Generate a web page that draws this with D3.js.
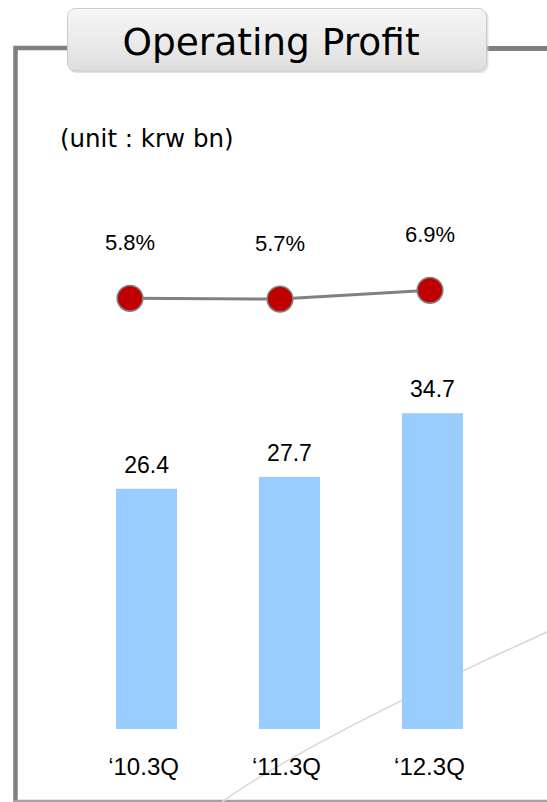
<!DOCTYPE html>
<html>
<head>
<meta charset="utf-8">
<script src="https://cdn.jsdelivr.net/npm/d3@7"></script>
<style>
  html, body { margin: 0; padding: 0; background: #ffffff; }
  svg { display: block; }
</style>
</head>
<body>
<div id="chart"></div>
<script>
// Quarterly operating profit (KRW bn) and operating margin (%)
const categories = ["\u201810.3Q", "\u201811.3Q", "\u201812.3Q"];
const profitValues = [26.4, 27.7, 34.7];
const marginValues = [5.8, 5.7, 6.9];
const marginLabels = ["5.8%", "5.7%", "6.9%"];
const titleText = "Operating Profit";
const unitText = "(unit : krw bn)";

const W = 547, H = 802;
const svg = d3.select("#chart").append("svg")
  .attr("width", W).attr("height", H);

const defs = svg.append("defs");
const grad = defs.append("linearGradient")
  .attr("id", "titleGrad").attr("x1", 0).attr("y1", 0).attr("x2", 0).attr("y2", 1);
grad.append("stop").attr("offset", "0%").attr("stop-color", "#f6f6f6");
grad.append("stop").attr("offset", "60%").attr("stop-color", "#e9e9e9");
grad.append("stop").attr("offset", "100%").attr("stop-color", "#dedede");

// Frame around the panel
const frame = svg.append("g");
frame.append("path")
  .attr("d", "M15.5,802 L15.5,48 L70,48")
  .attr("fill", "none").attr("stroke", "#808080").attr("stroke-width", 4.5);
frame.append("line")
  .attr("x1", 486).attr("x2", 547).attr("y1", 48.5).attr("y2", 48.5)
  .attr("stroke", "#808080").attr("stroke-width", 5);
frame.append("line")
  .attr("x1", 14).attr("x2", 547).attr("y1", 801).attr("y2", 801)
  .attr("stroke", "#a3a3a3").attr("stroke-width", 2.5);

// Decorative background sweep
svg.append("path")
  .attr("d", "M222,802 Q305,742 547,632")
  .attr("fill", "none").attr("stroke", "#dadada").attr("stroke-width", 1.6);

// Title badge
svg.append("rect")
  .attr("x", 68.5).attr("y", 10).attr("width", 420).attr("height", 63)
  .attr("rx", 8).attr("fill", "#cfcfcf").attr("opacity", 0.6);
svg.append("rect")
  .attr("x", 67.5).attr("y", 8.5).attr("width", 419).attr("height", 62.5)
  .attr("rx", 8).attr("fill", "url(#titleGrad)")
  .attr("stroke", "#cbcbcb").attr("stroke-width", 1);
svg.append("text")
  .attr("x", 271).attr("y", 54.5)
  .attr("text-anchor", "middle")
  .attr("font-family", "'DejaVu Sans', Verdana, sans-serif")
  .attr("font-size", 37.5).attr("fill", "#000")
  .text(titleText);

// Unit note
svg.append("text")
  .attr("x", 60).attr("y", 147)
  .attr("font-family", "'DejaVu Sans', Verdana, sans-serif")
  .attr("font-size", 24.5).attr("fill", "#000")
  .text(unitText);

// Scales
const x = d3.scaleBand()
  .domain(categories)
  .range([75, 504])
  .paddingInner(0.573)
  .paddingOuter(0.287);

const y = d3.scaleLinear().domain([0, 40]).range([729, 365]);

const xLine = d3.scalePoint().domain(categories).range([130, 430]);
const yLine = d3.scaleLinear().domain([5, 7]).range([304.2, 289.6]);

const labelFont = "'Liberation Sans', Arial, sans-serif";

// Bars
const bars = svg.append("g");
bars.selectAll("rect")
  .data(profitValues)
  .join("rect")
  .attr("x", (d, i) => x(categories[i]))
  .attr("width", x.bandwidth())
  .attr("y", d => y(d))
  .attr("height", d => y(0) - y(d))
  .attr("fill", "#99ccff");

bars.selectAll("text")
  .data(profitValues)
  .join("text")
  .attr("x", (d, i) => x(categories[i]) + x.bandwidth() / 2)
  .attr("y", d => y(d) - 16)
  .attr("text-anchor", "middle")
  .attr("font-family", labelFont)
  .attr("font-size", 23)
  .attr("fill", "#000")
  .text(d => d.toFixed(1));

// Category axis labels
const xAxis = d3.axisBottom(x).tickSize(0).tickPadding(0);
const axisG = svg.append("g")
  .attr("transform", "translate(-3, 758)")
  .call(xAxis);
axisG.select(".domain").remove();
axisG.selectAll("text")
  .attr("font-family", labelFont)
  .attr("font-size", 24)
  .attr("fill", "#000")
  .attr("dy", 0)
  .attr("y", 17);

// Margin line with markers
const lineGen = d3.line()
  .x((d, i) => xLine(categories[i]))
  .y(d => yLine(d));

const lineG = svg.append("g");
lineG.append("path")
  .datum(marginValues)
  .attr("d", lineGen)
  .attr("fill", "none")
  .attr("stroke", "#808080")
  .attr("stroke-width", 3);

lineG.selectAll("circle")
  .data(marginValues)
  .join("circle")
  .attr("cx", (d, i) => xLine(categories[i]))
  .attr("cy", d => yLine(d))
  .attr("r", 12.8)
  .attr("fill", "#c00000")
  .attr("stroke", "#808080")
  .attr("stroke-width", 1.6);

lineG.selectAll("text")
  .data(marginValues)
  .join("text")
  .attr("x", (d, i) => xLine(categories[i]))
  .attr("y", d => yLine(d) - 48)
  .attr("text-anchor", "middle")
  .attr("font-family", labelFont)
  .attr("font-size", 22)
  .attr("fill", "#000")
  .text((d, i) => marginLabels[i]);
</script>
</body>
</html>
